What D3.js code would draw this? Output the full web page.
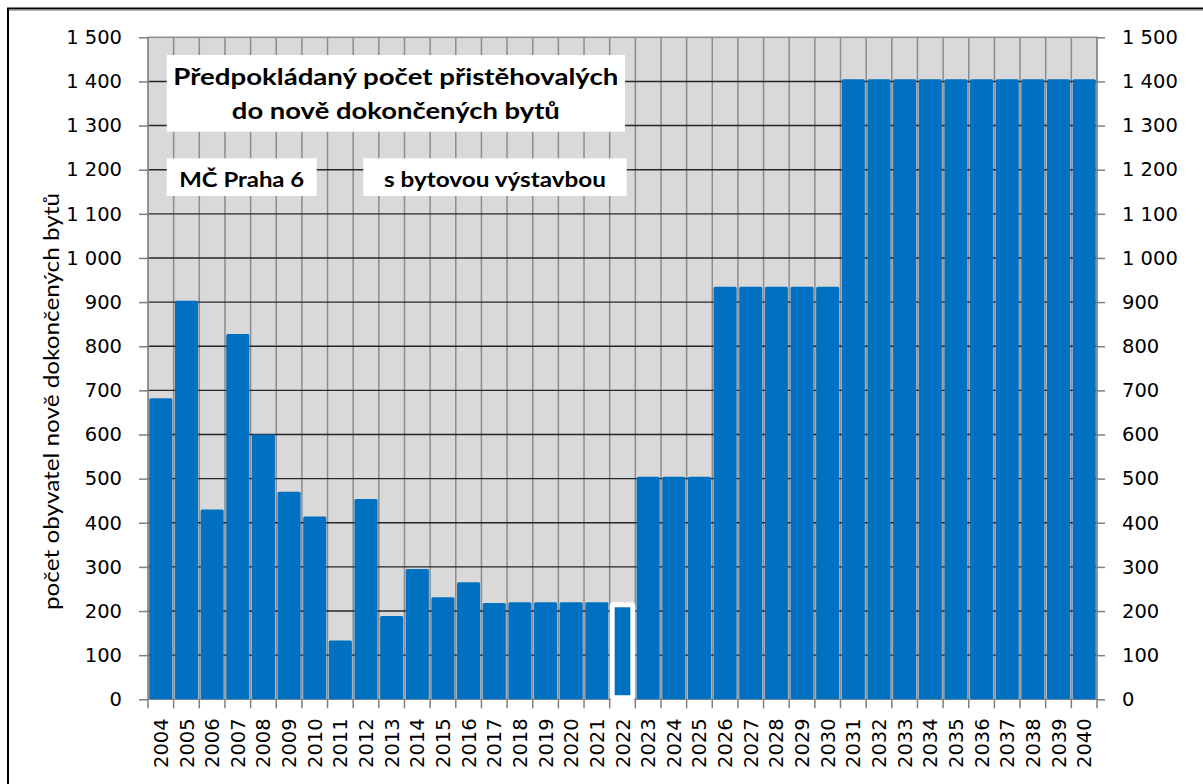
<!DOCTYPE html>
<html>
<head>
<meta charset="utf-8">
<script src="https://cdn.jsdelivr.net/npm/d3@7"></script>
<style>
  html, body { margin: 0; padding: 0; background: #fff; }
  svg { display: block; }
</style>
</head>
<body>
<svg id="chart" width="1203" height="784"></svg>
<script>
// ---------- data ----------
const years = ["2004","2005","2006","2007","2008","2009","2010","2011","2012","2013",
  "2014","2015","2016","2017","2018","2019","2020","2021","2022","2023","2024","2025",
  "2026","2027","2028","2029","2030","2031","2032","2033","2034","2035","2036","2037",
  "2038","2039","2040"];
const values = [682, 903, 430, 828, 600, 470, 414, 133, 454, 189,
  295, 231, 265, 218, 220, 220, 220, 220, 220, 504, 504, 504,
  935, 935, 935, 935, 935, 1405, 1405, 1405, 1405, 1405, 1405, 1405,
  1405, 1405, 1405];
const highlighted = ["2022"];
const yTicks = [0,100,200,300,400,500,600,700,800,900,1000,1100,1200,1300,1400,1500];
const titleLines = ["Předpokládaný počet přistěhovalých", "do nově dokončených bytů"];
const subLabels = ["MČ Praha 6", "s bytovou výstavbou"];
const yTitle = "počet obyvatel nově dokončených bytů";

// ---------- layout ----------
const svg = d3.select("#chart");
const plot = {left: 148, right: 1097, top: 37.3, bottom: 699.3};
const x = d3.scaleBand().domain(years).range([plot.left, plot.right])
  .paddingInner(0.1).paddingOuter(0.05);
const y = d3.scaleLinear().domain([0, 1500]).range([plot.bottom, plot.top]);
const step = x.step();
const locale = d3.formatLocale({decimal: ",", thousands: " ", grouping: [3], currency: ["", ""]});
const fmt = locale.format(",d");

// outer frame
svg.append("rect").attr("x", 0).attr("y", 0).attr("width", 1203).attr("height", 784).attr("fill", "#fff");
svg.append("rect").attr("x", 8).attr("y", 8.5).attr("width", 1400).attr("height", 1000)
  .attr("fill", "none").attr("stroke", "#000").attr("stroke-width", 2);
svg.append("line").attr("x1", 9).attr("x2", 1203).attr("y1", 10.3).attr("y2", 10.3)
  .attr("stroke", "#a0a0a0").attr("stroke-width", 1);

// plot background
svg.append("rect").attr("x", plot.left).attr("y", plot.top)
  .attr("width", plot.right - plot.left).attr("height", plot.bottom - plot.top)
  .attr("fill", "#d9d9d9");

// vertical gridlines at category boundaries
const bounds = d3.range(years.length + 1).map(i => plot.left + i * step);
svg.append("g").selectAll("line").data(bounds).join("line")
  .attr("x1", d => d).attr("x2", d => d)
  .attr("y1", plot.top).attr("y2", plot.bottom)
  .attr("stroke", "#8c8c8c").attr("stroke-width", 1.5);

// horizontal gridlines
svg.append("g").selectAll("line").data(yTicks.filter(t => t > 0 && t < 1500)).join("line")
  .attr("x1", plot.left).attr("x2", plot.right)
  .attr("y1", d => y(d)).attr("y2", d => y(d))
  .attr("stroke", "#262626").attr("stroke-width", 1.4);

// plot border
svg.append("rect").attr("x", plot.left).attr("y", plot.top)
  .attr("width", plot.right - plot.left).attr("height", plot.bottom - plot.top)
  .attr("fill", "none").attr("stroke", "#8c8c8c").attr("stroke-width", 1.5);

// bars
const bw = x.bandwidth();
svg.append("g").selectAll("rect").data(years.map((c, i) => ({c, v: values[i]}))).join("rect")
  .attr("x", d => highlighted.includes(d.c) ? x(d.c) - (step - bw) / 2 + 2.5 : x(d.c))
  .attr("width", d => highlighted.includes(d.c) ? step - 5 : bw)
  .attr("y", d => highlighted.includes(d.c) ? y(d.v) + 2.5 : y(d.v))
  .attr("height", d => highlighted.includes(d.c) ? y(0) - y(d.v) - 4 : y(0) - y(d.v))
  .attr("rx", 1.5)
  .attr("fill", "#0070c0")
  .attr("stroke", d => highlighted.includes(d.c) ? "#fff" : "none")
  .attr("stroke-width", d => highlighted.includes(d.c) ? 5 : 0);

// left axis
const yAxisL = svg.append("g").attr("transform", `translate(${plot.left},0)`)
  .call(d3.axisLeft(y).tickValues(yTicks).tickFormat(fmt).tickSize(9).tickPadding(17));
yAxisL.select(".domain").remove();
yAxisL.selectAll(".tick line").attr("stroke", "#7f7f7f").attr("stroke-width", 1.5);
yAxisL.selectAll(".tick text").attr("font-family", "DejaVu Sans").attr("font-size", 19.5).attr("fill", "#000");

// right axis
const yAxisR = svg.append("g").attr("transform", `translate(${plot.right},0)`)
  .call(d3.axisRight(y).tickValues(yTicks).tickFormat(fmt).tickSize(8).tickPadding(17));
yAxisR.select(".domain").remove();
yAxisR.selectAll(".tick line").attr("stroke", "#7f7f7f").attr("stroke-width", 1.5);
yAxisR.selectAll(".tick text").attr("font-family", "DejaVu Sans").attr("font-size", 19.5).attr("fill", "#000");

// bottom boundary ticks
svg.append("g").selectAll("line").data(bounds).join("line")
  .attr("x1", d => d).attr("x2", d => d)
  .attr("y1", plot.bottom).attr("y2", plot.bottom + 9)
  .attr("stroke", "#7f7f7f").attr("stroke-width", 1.5);

// bottom labels
const xAxis = svg.append("g").attr("transform", `translate(0,${plot.bottom})`)
  .call(d3.axisBottom(x).tickSize(0).tickPadding(0));
xAxis.select(".domain").remove();
xAxis.selectAll(".tick text")
  .attr("font-family", "DejaVu Sans").attr("font-size", 19.5).attr("fill", "#000")
  .attr("transform", "translate(0,19) rotate(-90)")
  .attr("text-anchor", "end").attr("dy", "0.36em").attr("y", 0).attr("x", 0);

// y title
svg.append("text")
  .attr("transform", `translate(50,${(193 + 610) / 2}) rotate(-90)`)
  .attr("text-anchor", "middle").attr("dominant-baseline", "central")
  .attr("font-family", "Lato").attr("font-size", 22)
  .attr("textLength", 417).attr("lengthAdjust", "spacingAndGlyphs")
  .text(yTitle);

// title box
const tb = {x: 166.7, y: 55, w: 458.3, h: 76.7};
svg.append("rect").attr("x", tb.x).attr("y", tb.y).attr("width", tb.w).attr("height", tb.h).attr("fill", "#fff");
const titleLens = [445, 328];
const titleBase = [85, 118.5];
titleLines.forEach((t, i) => {
  svg.append("text").attr("x", tb.x + tb.w / 2).attr("y", titleBase[i])
    .attr("text-anchor", "middle").attr("font-family", "Lato").attr("font-weight", "bold")
    .attr("font-size", 23).attr("textLength", titleLens[i]).attr("lengthAdjust", "spacingAndGlyphs")
    .text(t);
});

// sub label boxes
const subBoxes = [{x: 166.7, w: 150, tl: 125}, {x: 363.3, w: 263.4, tl: 222}];
subLabels.forEach((t, i) => {
  const b = subBoxes[i];
  svg.append("rect").attr("x", b.x).attr("y", 158.3).attr("width", b.w).attr("height", 37.7).attr("fill", "#fff");
  svg.append("text").attr("x", b.x + b.w / 2).attr("y", 186.5)
    .attr("text-anchor", "middle").attr("font-family", "Lato").attr("font-weight", "bold")
    .attr("font-size", 21).attr("textLength", b.tl).attr("lengthAdjust", "spacingAndGlyphs")
    .text(t);
});
</script>
</body>
</html>
